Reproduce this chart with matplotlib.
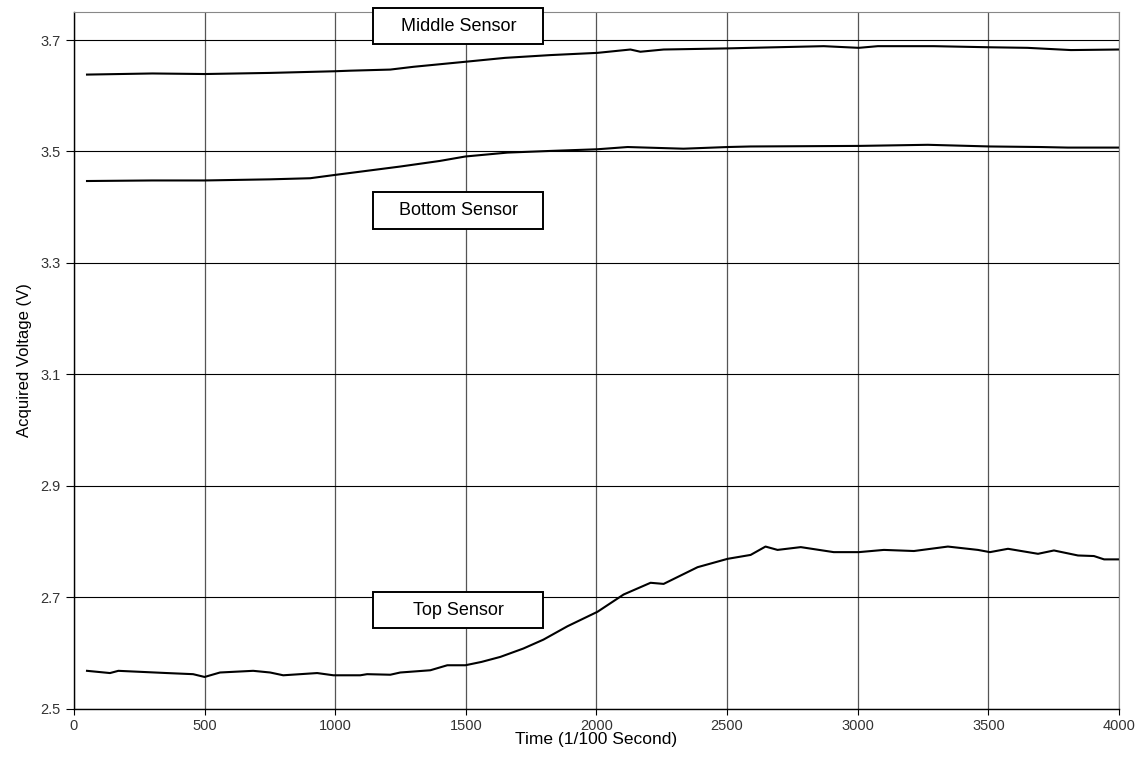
import matplotlib.pyplot as plt
from matplotlib.patches import Rectangle

# time in 1/100 s, voltages
mid_t = [50, 300, 500, 750, 1000, 1057, 1211, 1300, 1498, 1650, 1824, 2004, 2130, 2168, 2257,
         2502, 2590, 2870, 3004, 3077, 3291, 3506, 3650, 3816, 4000]
mid_v = [3.638, 3.640, 3.639, 3.641, 3.644, 3.645, 3.647, 3.652, 3.661, 3.668, 3.673, 3.677, 3.683,
         3.679, 3.683, 3.685, 3.686, 3.689, 3.686, 3.689, 3.689, 3.687, 3.686, 3.682, 3.683]

bot_t = [50, 300, 500, 750, 904, 1000, 1249, 1400, 1498, 1659, 1824, 2004, 2119, 2333, 2502,
         2590, 3004, 3268, 3506, 3700, 3804, 4000]
bot_v = [3.447, 3.448, 3.448, 3.450, 3.452, 3.458, 3.473, 3.483, 3.491, 3.498, 3.501, 3.504, 3.508,
         3.505, 3.508, 3.509, 3.510, 3.512, 3.509, 3.508, 3.507, 3.507]

top_t = [50, 138, 170, 356, 456, 500, 559, 686, 751, 801, 931, 993, 1096, 1122, 1211, 1249, 1364,
         1429, 1498, 1560, 1632, 1720, 1797, 1889, 2004, 2104, 2207, 2257, 2387, 2502, 2590, 2647,
         2693, 2782, 2908, 3004, 3100, 3215, 3345, 3460, 3506, 3575, 3690, 3751, 3843, 3904, 3943,
         4000]
top_v = [2.568, 2.564, 2.568, 2.564, 2.562, 2.557, 2.565, 2.568, 2.565, 2.560, 2.564, 2.560, 2.560,
         2.562, 2.561, 2.565, 2.569, 2.578, 2.578, 2.584, 2.593, 2.608, 2.624, 2.648, 2.674, 2.705,
         2.726, 2.724, 2.754, 2.769, 2.776, 2.791, 2.785, 2.790, 2.781, 2.781, 2.785, 2.783, 2.791,
         2.785, 2.781, 2.787, 2.778, 2.784, 2.775, 2.774, 2.768, 2.768]

labels = ["Middle Sensor", "Bottom Sensor", "Top Sensor"]
label_y = [3.725, 3.394, 2.677]
label_x = 1471

plt.rcParams['font.family'] = ['Liberation Sans', 'DejaVu Sans']

fig = plt.figure(figsize=(11.43, 7.61), dpi=100)
ax = fig.add_axes([0.0647, 0.0687, 0.9143, 0.9153])

for t, v in [(mid_t, mid_v), (bot_t, bot_v), (top_t, top_v)]:
    ax.plot(t, v, color='black', linewidth=1.5)

ax.set_xlim(0, 4000)
ax.set_ylim(2.5, 3.75)
ax.set_xticks(range(0, 4001, 500))
ax.set_yticks([2.5, 2.7, 2.9, 3.1, 3.3, 3.5, 3.7])
ax.set_yticklabels(["2.5", "2.7", "2.9", "3.1", "3.3", "3.5", "3.7"])
ax.grid(True, color='black', linewidth=0.8)
ax.xaxis.grid(True, color='#555555', linewidth=0.9)
ax.tick_params(direction='out', length=4, colors='black', labelsize=10.5, labelcolor='#333333')
ax.tick_params(axis='y', length=6)
for s in ['top', 'right']:
    ax.spines[s].set_color('#888888')
for s in ['left', 'bottom']:
    ax.spines[s].set_linewidth(1.0)

box_w, box_h = 651, 0.066
for name, y in zip(labels, label_y):
    ax.add_patch(Rectangle((label_x - box_w / 2, y - box_h / 2), box_w, box_h,
                           facecolor='white', edgecolor='black', linewidth=1.4,
                           clip_on=False, zorder=5))
    ax.text(label_x, y, name, ha='center', va='center', fontsize=13, zorder=6)

ax.set_xlabel("Time (1/100 Second)", fontsize=12.5, labelpad=-1)
ax.set_ylabel("Acquired Voltage (V)", fontsize=12, labelpad=6)

fig.savefig("out.png", dpi=100)
